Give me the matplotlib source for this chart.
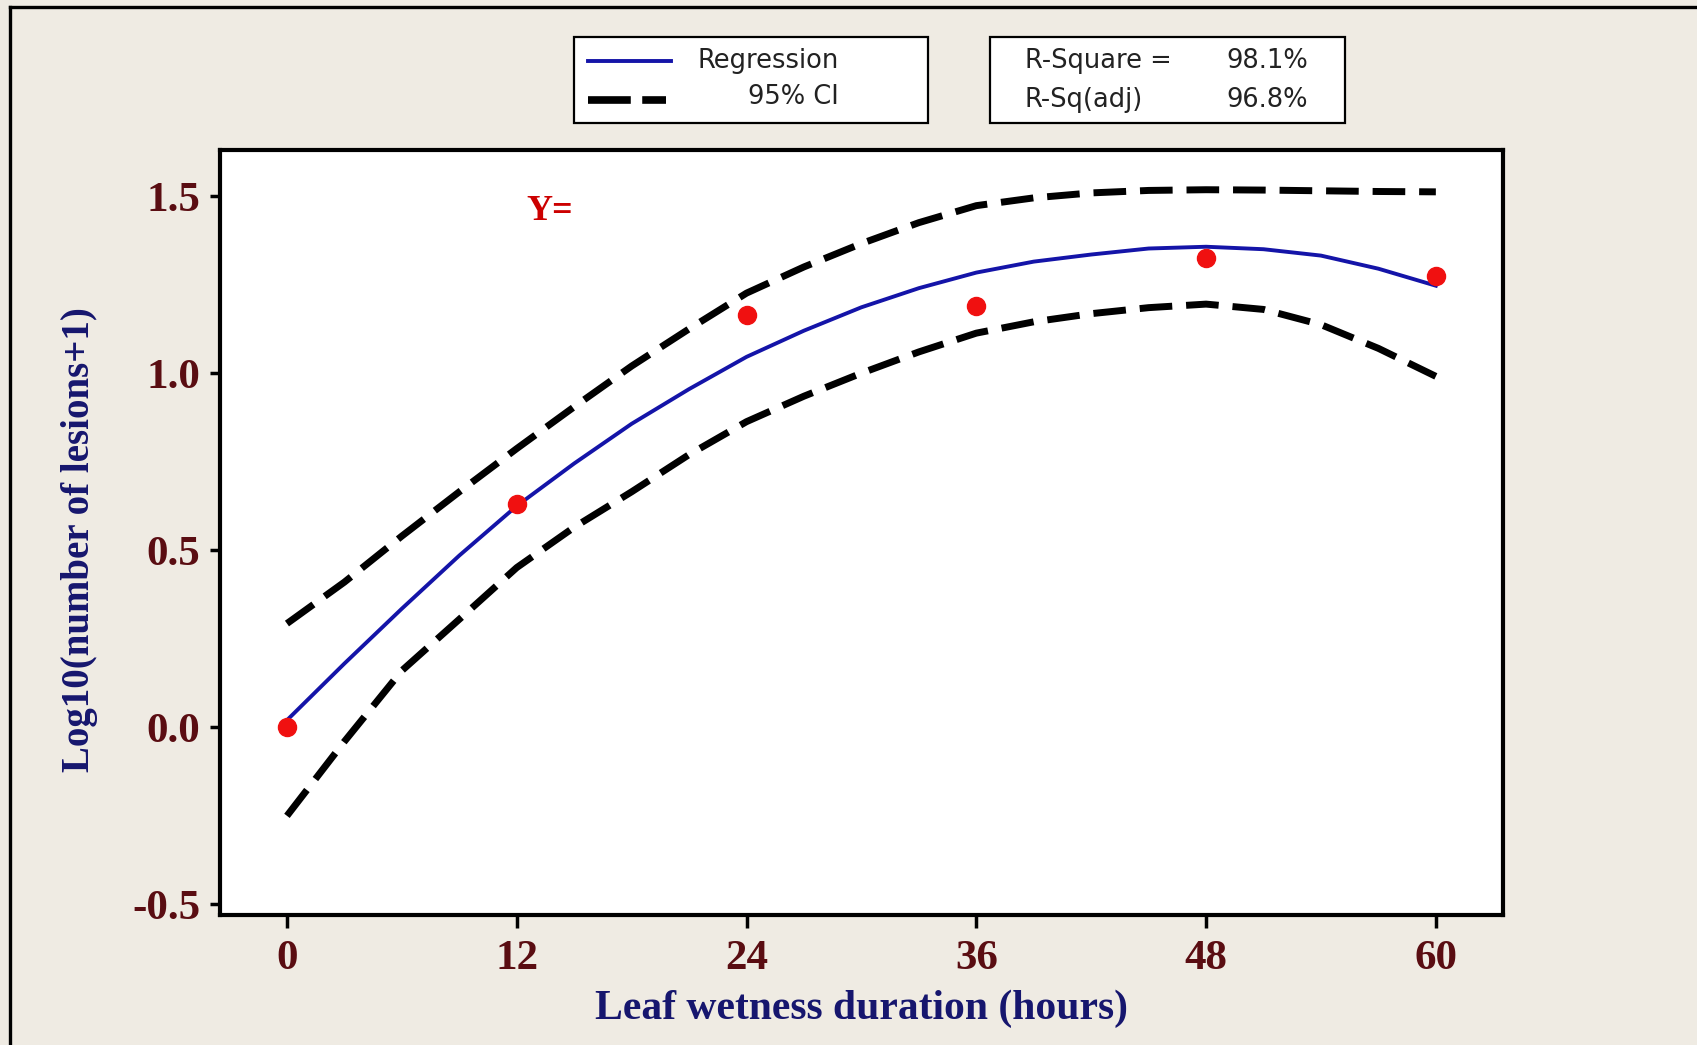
import matplotlib.pyplot as plt
from matplotlib.lines import Line2D
from matplotlib.patches import Rectangle

# observed points
hours = [0, 12, 24, 36, 48, 60]
log_lesions = [0.0, 0.631, 1.165, 1.189, 1.326, 1.274]

# fitted curve and 95% confidence band, sampled every 3 hours
fit_hours = [0, 3, 6, 9, 12, 15, 18, 21, 24, 27, 30,
             33, 36, 39, 42, 45, 48, 51, 54, 57, 60]
fit_values = [0.02, 0.18, 0.335, 0.485, 0.625, 0.745, 0.857, 0.955, 1.046, 1.12, 1.186,
              1.24, 1.284, 1.315, 1.335, 1.352, 1.357, 1.35, 1.332, 1.295, 1.247]
ci_upper = [0.293, 0.41, 0.54, 0.665, 0.787, 0.905, 1.02, 1.125, 1.226, 1.3, 1.366,
            1.425, 1.473, 1.495, 1.509, 1.516, 1.518, 1.517, 1.515, 1.513, 1.512]
ci_lower = [-0.25, -0.04, 0.16, 0.305, 0.451, 0.565, 0.665, 0.77, 0.863, 0.935, 1.0,
            1.06, 1.113, 1.145, 1.168, 1.185, 1.195, 1.18, 1.137, 1.07, 0.991]

x_ticks = [0, 12, 24, 36, 48, 60]
y_ticks = [-0.5, 0.0, 0.5, 1.0, 1.5]
y_tick_labels = ['-0.5', '0.0', '0.5', '1.0', '1.5']

r_sq = '98.1%'
r_sq_adj = '96.8%'

bg = '#efebe3'
tick_col = '#5a0d12'
label_col = '#16166e'
serif = 'Liberation Serif'
legend_fs = 18.5

fig = plt.figure(figsize=(16.97, 10.45), dpi=100, facecolor=bg)
ax = fig.add_axes([0.1296, 0.1244, 0.756, 0.732])
ax.set_facecolor('white')

ax.plot(fit_hours, ci_upper, color='black', lw=5, dashes=(4.7, 2.0),
        dash_capstyle='butt', zorder=2)
ax.plot(fit_hours, ci_lower, color='black', lw=5, dashes=(4.7, 2.0),
        dash_capstyle='butt', zorder=2)
ax.plot(fit_hours, fit_values, color='#1414a8', lw=2.8, zorder=3)
ax.plot(hours, log_lesions, 'o', color='#f01010', ms=13, zorder=4)

ax.text(13.7, 1.457, 'Y=', color='#cc0000', fontsize=26, fontweight='bold',
        family=serif, ha='center', va='center')

ax.set_xlim(-3.5, 63.5)
ax.set_ylim(-0.53, 1.63)
ax.set_xticks(x_ticks)
ax.set_yticks(y_ticks)
ax.set_yticklabels(y_tick_labels)
for s in ax.spines.values():
    s.set_linewidth(3)
    s.set_color('black')
ax.tick_params(axis='x', direction='out', length=9, width=2.5, pad=9,
               labelsize=31, labelcolor=tick_col)
ax.tick_params(axis='y', direction='out', length=7, width=2.5, pad=7,
               labelsize=31, labelcolor=tick_col)
for lab in ax.get_xticklabels() + ax.get_yticklabels():
    lab.set_family(serif)
    lab.set_fontweight('bold')

fig.text(0.5077, 0.0344, 'Leaf wetness duration (hours)', color=label_col,
         fontsize=30, fontweight='bold', family=serif, ha='center', va='center')
fig.text(0.0466, 0.484, 'Log10(number of lesions+1)', color=label_col,
         fontsize=28, fontweight='bold', family=serif, ha='center', va='center',
         rotation=90)

# legend box
fig.add_artist(Rectangle((0.338, 0.8823), 0.209, 0.0823, transform=fig.transFigure,
                         facecolor='white', edgecolor='black', lw=1.6))
fig.add_artist(Line2D([0.3465, 0.3954], [0.9416, 0.9416], transform=fig.transFigure,
                      color='#1414a8', lw=2.8))
fig.add_artist(Line2D([0.3465, 0.3925], [0.9047, 0.9047], transform=fig.transFigure,
                      color='black', lw=5.5, dashes=(5.6, 1.5), dash_capstyle='butt'))
fig.text(0.4944, 0.9416, 'Regression', fontsize=legend_fs, color='#222222',
         ha='right', va='center')
fig.text(0.4944, 0.9072, '95% CI', fontsize=legend_fs, color='#222222',
         ha='right', va='center')

# fit statistics box
fig.add_artist(Rectangle((0.5834, 0.8823), 0.2092, 0.0823, transform=fig.transFigure,
                         facecolor='white', edgecolor='black', lw=1.6))
fig.text(0.604, 0.9416, 'R-Square =', fontsize=legend_fs, color='#222222', va='center')
fig.text(0.604, 0.9047, 'R-Sq(adj)', fontsize=legend_fs, color='#222222', va='center')
fig.text(0.7225, 0.9416, r_sq, fontsize=legend_fs, color='#222222', va='center')
fig.text(0.7225, 0.9047, r_sq_adj, fontsize=legend_fs, color='#222222', va='center')

# outer frame (left and top edges)
fig.add_artist(Line2D([0.0059, 0.0059], [0.0, 0.9933], transform=fig.transFigure,
                      color='black', lw=2.4))
fig.add_artist(Line2D([0.0059, 1.0], [0.9933, 0.9933], transform=fig.transFigure,
                      color='black', lw=2.4))

fig.savefig('out.png', dpi=100, facecolor=bg)
